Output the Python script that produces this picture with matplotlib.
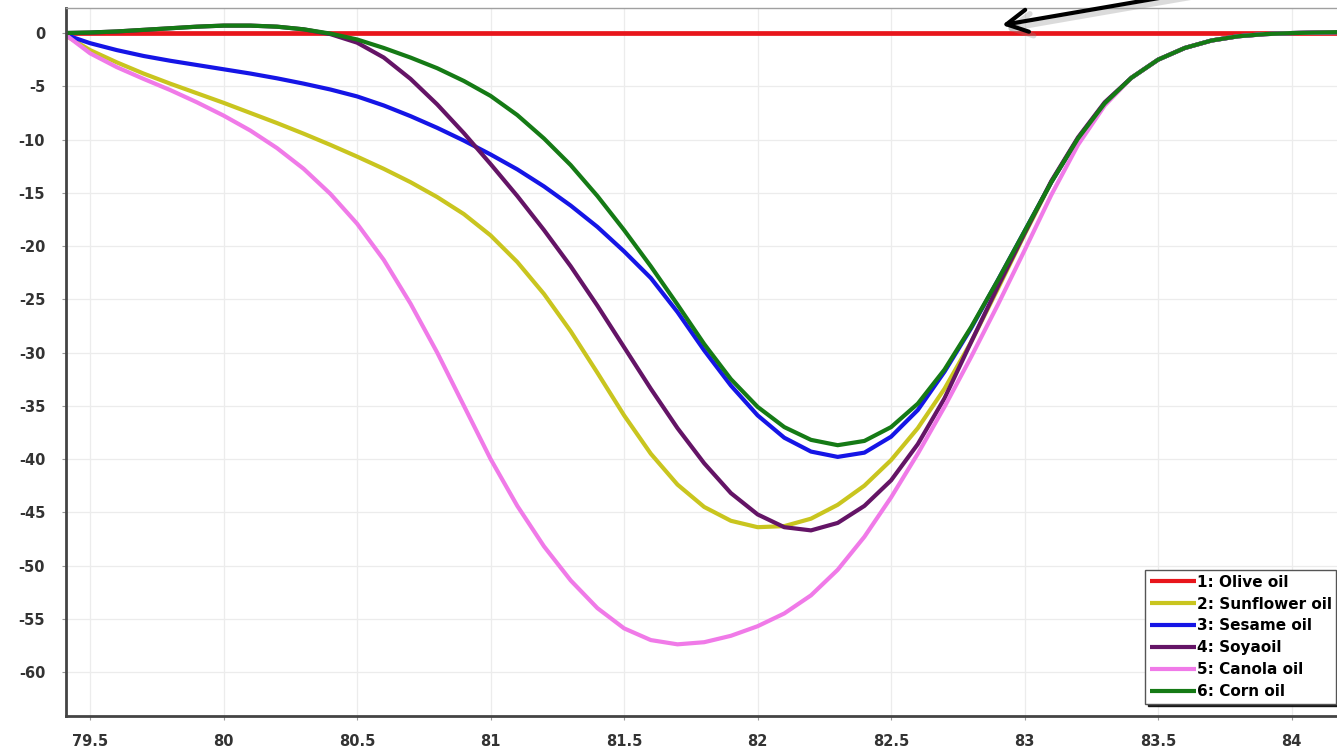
import numpy as np
import matplotlib
matplotlib.use("Agg")
import matplotlib.pyplot as plt

# Melting temperature grid (deg C)
temps = np.round(np.arange(79.4, 84.21, 0.1), 1)

# Difference-curve values relative to olive oil
olive = [0.0] * 49

sunflower = [-0.1, -1.6, -2.75, -3.8, -4.75, -5.65, -6.55, -7.5, -8.45, -9.45,
             -10.5, -11.6, -12.75, -14.0, -15.4, -17.0, -19.0, -21.5, -24.5, -28.0,
             -31.9, -35.9, -39.5, -42.4, -44.5, -45.8, -46.4, -46.3, -45.6, -44.3,
             -42.5, -40.1, -37.1, -33.4, -29.0, -24.0, -18.9, -14.0, -9.9, -6.6,
             -4.2, -2.5, -1.4, -0.7, -0.3, -0.1, 0.0, 0.05, 0.1]

sesame = [-0.1, -0.95, -1.6, -2.15, -2.6, -3.0, -3.4, -3.8, -4.25, -4.75,
          -5.3, -5.95, -6.8, -7.8, -8.9, -10.1, -11.4, -12.8, -14.4, -16.2,
          -18.2, -20.5, -23.0, -26.2, -29.8, -33.1, -35.9, -38.0, -39.3, -39.8,
          -39.4, -37.9, -35.4, -31.8, -27.7, -23.2, -18.6, -14.0, -9.9, -6.6,
          -4.2, -2.5, -1.4, -0.7, -0.3, -0.1, 0.0, 0.05, 0.1]

soya = [0.0, 0.05, 0.15, 0.3, 0.45, 0.6, 0.7, 0.7, 0.6, 0.35,
        -0.1, -0.9, -2.3, -4.3, -6.7, -9.4, -12.3, -15.3, -18.5, -21.9,
        -25.6, -29.5, -33.4, -37.1, -40.4, -43.2, -45.2, -46.4, -46.7, -46.0,
        -44.4, -42.0, -38.6, -34.3, -29.0, -23.8, -18.8, -13.9, -9.8, -6.5,
        -4.2, -2.5, -1.4, -0.7, -0.3, -0.1, 0.0, 0.05, 0.1]

canola = [0.0, -1.9, -3.2, -4.3, -5.35, -6.5, -7.75, -9.15, -10.8, -12.75,
          -15.1, -17.9, -21.3, -25.4, -30.0, -35.0, -40.0, -44.4, -48.2, -51.4,
          -54.0, -55.9, -57.0, -57.4, -57.2, -56.6, -55.7, -54.5, -52.8, -50.4,
          -47.3, -43.6, -39.5, -35.1, -30.4, -25.5, -20.4, -15.2, -10.5, -6.8,
          -4.2, -2.5, -1.4, -0.7, -0.3, -0.1, 0.0, 0.05, 0.1]

corn = [0.0, 0.05, 0.15, 0.3, 0.45, 0.6, 0.7, 0.7, 0.6, 0.35,
        -0.05, -0.6, -1.4, -2.3, -3.3, -4.5, -5.9, -7.7, -9.9, -12.4,
        -15.3, -18.5, -21.9, -25.5, -29.2, -32.5, -35.1, -37.0, -38.2, -38.7,
        -38.3, -37.0, -34.8, -31.6, -27.6, -23.2, -18.6, -14.0, -9.9, -6.6,
        -4.2, -2.5, -1.4, -0.7, -0.3, -0.1, 0.0, 0.05, 0.1]

labels = ["1: Olive oil", "2: Sunflower oil", "3: Sesame oil",
          "4: Soyaoil", "5: Canola oil", "6: Corn oil"]
colors = ["#e8151b", "#c9c51f", "#1515e6", "#641466", "#f07ae8", "#157a15"]
series = [olive, sunflower, sesame, soya, canola, corn]

xticks = [79.5, 80, 80.5, 81, 81.5, 82, 82.5, 83, 83.5, 84]
xticklabels = ["79.5", "80", "80.5", "81", "81.5", "82", "82.5", "83", "83.5", "84"]
yticks = [0, -5, -10, -15, -20, -25, -30, -35, -40, -45, -50, -55, -60]
yticklabels = [str(v) for v in yticks]

fig = plt.figure(figsize=(13.37, 7.51), dpi=100)
ax = fig.add_axes([0.0494, 0.0466, 0.9506, 0.9427])

for vals, lab, col in zip(series, labels, colors):
    lw = 3.4 if lab.startswith("1") else 3.0
    ax.plot(temps, vals, color=col, lw=lw, label=lab,
            solid_joinstyle="round", solid_capstyle="butt")

ax.set_xlim(79.41, 84.17)
ax.set_ylim(-64.13, 2.35)
ax.set_xticks(xticks)
ax.set_xticklabels(xticklabels)
ax.set_yticks(yticks)
ax.set_yticklabels(yticklabels)

for lab in ax.get_xticklabels() + ax.get_yticklabels():
    lab.set_fontweight("bold")
    lab.set_fontsize(10.5)
    lab.set_color("#333333")
ax.tick_params(axis="y", length=3, pad=12, color="#999999")
ax.tick_params(axis="x", length=3, pad=10, color="#999999")

ax.grid(True, color="#ececec", lw=0.9)
ax.set_axisbelow(True)

ax.spines["right"].set_visible(False)
ax.spines["top"].set_color("#a0a0a0")
ax.spines["top"].set_linewidth(1.0)
for side in ("left", "bottom"):
    ax.spines[side].set_color("#444444")
    ax.spines[side].set_linewidth(2.0)

leg = ax.legend(loc="upper left", bbox_to_anchor=(0.849, 0.206), borderaxespad=0,
                prop={"weight": "bold", "size": 11}, handlelength=3.0,
                handletextpad=0.08, labelspacing=0.45, borderpad=0.3,
                fancybox=False, shadow={"color": "black", "alpha": 0.85},
                framealpha=1.0, edgecolor="#555555")
leg.get_frame().set_linewidth(1.0)
for h in leg.get_lines():
    h.set_linewidth(3.0)

# Pointer onto the olive-oil baseline, with a soft drop shadow
tip = (82.916, 0.75)
arrow_style = "->,head_length=0.75,head_width=0.4"
ax.annotate("", xy=(tip[0] + 0.012, tip[1] - 0.4), xycoords="data",
            xytext=(1221, 759), textcoords="figure pixels",
            arrowprops=dict(arrowstyle=arrow_style, color="#8a8a8a", lw=4.0,
                            alpha=0.3, mutation_scale=20, shrinkA=0, shrinkB=0),
            annotation_clip=False)
ax.annotate("", xy=tip, xycoords="data",
            xytext=(1217, 763), textcoords="figure pixels",
            arrowprops=dict(arrowstyle=arrow_style, color="black", lw=3.0,
                            mutation_scale=20, shrinkA=0, shrinkB=0),
            annotation_clip=False)

fig.savefig("out.png", dpi=100, facecolor="white")
